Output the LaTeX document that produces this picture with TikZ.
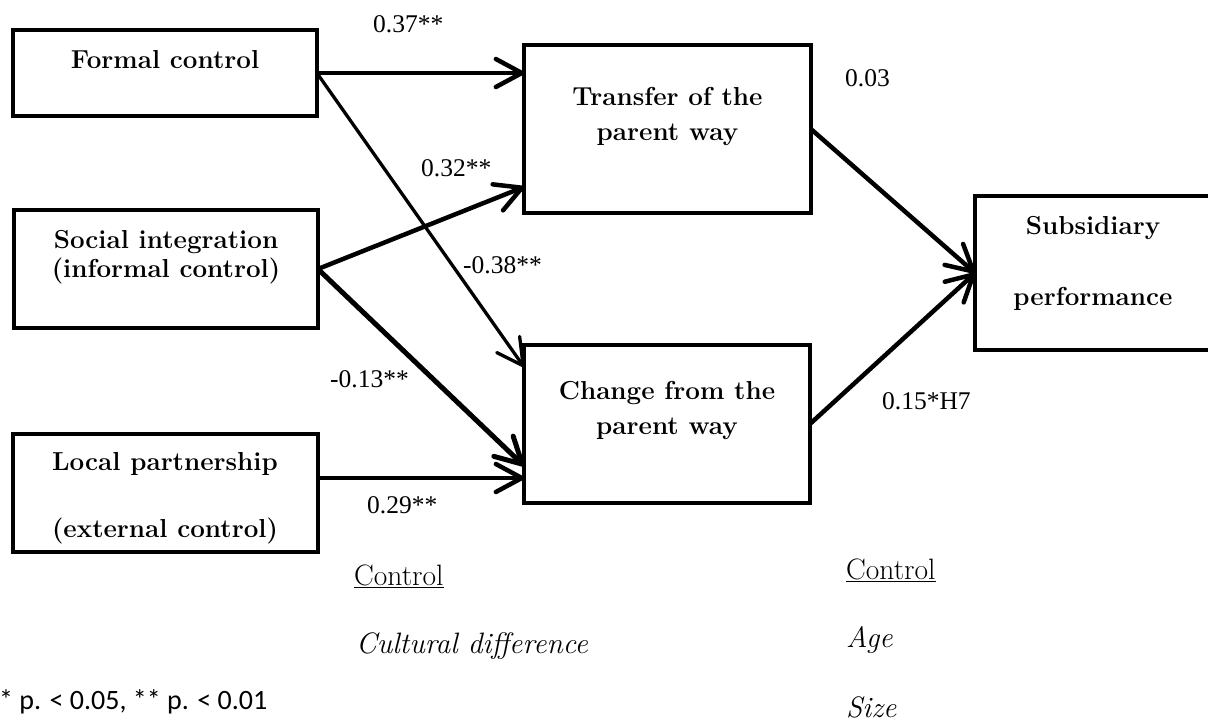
\documentclass[tikz,border=0pt]{standalone}
\usepackage{fontspec}
\newfontfamily\numfont{Liberation Serif}
\newfontfamily\notefont{Carlito}
\usetikzlibrary{arrows.meta,calc}
\begin{document}
\begin{tikzpicture}[x=1pt,y=-1pt,
  box/.style={draw, line width=4.2pt, inner sep=0pt, outer sep=0pt, rectangle},
  btxt/.style={font=\fontsize{26}{30}\selectfont\bfseries, anchor=base, inner sep=0pt},
  num/.style={font=\numfont\fontsize{25.5}{30}\selectfont, anchor=base west, inner sep=0pt},
  ctl/.style={font=\fontsize{29.5}{34}\selectfont, anchor=base west, inner sep=0pt},
  conn/.style={line width=4.5pt, -{Straight Barb[length=26pt,width=28pt,round]}},
]
\useasboundingbox (0,0) rectangle (1208,721);
\fill[white] (0,0) rectangle (1208,721);

% boxes
\node[box, minimum width=303.8pt, minimum height=85.8pt]  (formal)   at (165,73)   {};
\node[box, minimum width=303.8pt, minimum height=117.8pt] (social)   at (166,269)  {};
\node[box, minimum width=304.8pt, minimum height=117.8pt] (local)    at (165.5,493){};
\node[box, minimum width=286.8pt, minimum height=167.8pt] (transfer) at (667.5,129){};
\node[box, minimum width=285.8pt, minimum height=157.8pt] (change)   at (667,424)  {};
\node[box, minimum width=238.8pt, minimum height=153.8pt] (sub)      at (1094.5,273){};

% box texts
\node[btxt] (tformal)  at (165,68)  {Formal control};
\node[btxt] (tsocial1) at (166,248) {Social integration};
\node[btxt] (tsocial2) at (166,277) {(informal control)};
\node[btxt] (tlocal1)  at (165,470) {Local partnership};
\node[btxt] (tlocal2)  at (165,537) {(external control)};
\node[btxt] (ttrans1)  at (667.5,105) {Transfer of the};
\node[btxt] (ttrans2)  at (667.5,140) {parent way};
\node[btxt] (tchange1) at (667,399) {Change from the};
\node[btxt] (tchange2) at (667,434) {parent way};
\node[btxt] (tsub1)    at (1093,234) {Subsidiary};
\node[btxt] (tsub2)    at (1093,305) {performance};

% connectors
\draw[conn] (formal.east) -- (formal.east -| transfer.west);
\draw[conn, line width=3.3pt] (formal.east) -- ([yshift=-22pt]change.north west);
\draw[conn] (social.east) -- ([yshift=26pt]transfer.south west);
\draw[conn, line width=5pt] (social.east) -- ([yshift=37pt]change.south west);
\draw[conn] ([yshift=15pt]local.east) -- ([yshift=15pt]local.east -| change.west);
\draw[conn] (transfer.east) -- (sub.west);
\draw[conn] (change.east) -- (sub.west);

% coefficient labels
\node[num] (l1) at (373,32)  {0.37**};
\node[num] (l2) at (421,176) {0.32**};
\node[num] (l3) at (463,273) {-0.38**};
\node[num] (l4) at (330,387) {-0.13**};
\node[num] (l5) at (367,513) {0.29**};
\node[num] (l6) at (845,86)  {0.03};
\node[num] (l7) at (882,409) {0.15*H7};

% control variables
\node[ctl] (c1) at (354,585) {\underline{Control}};
\node[ctl] (c2) at (356,653) {\itshape Cultural difference};
\node[ctl] (c3) at (846,579) {\underline{Control}};
\node[ctl] (c4) at (846,647) {\itshape Age};
\node[ctl] (c5) at (846,717) {\itshape Size};

% note
\node[font=\notefont\fontsize{28}{32}\selectfont, anchor=base west, inner sep=0pt] (note) at (-1,709) {* p. < 0.05, ** p. < 0.01};
\end{tikzpicture}
\end{document}
